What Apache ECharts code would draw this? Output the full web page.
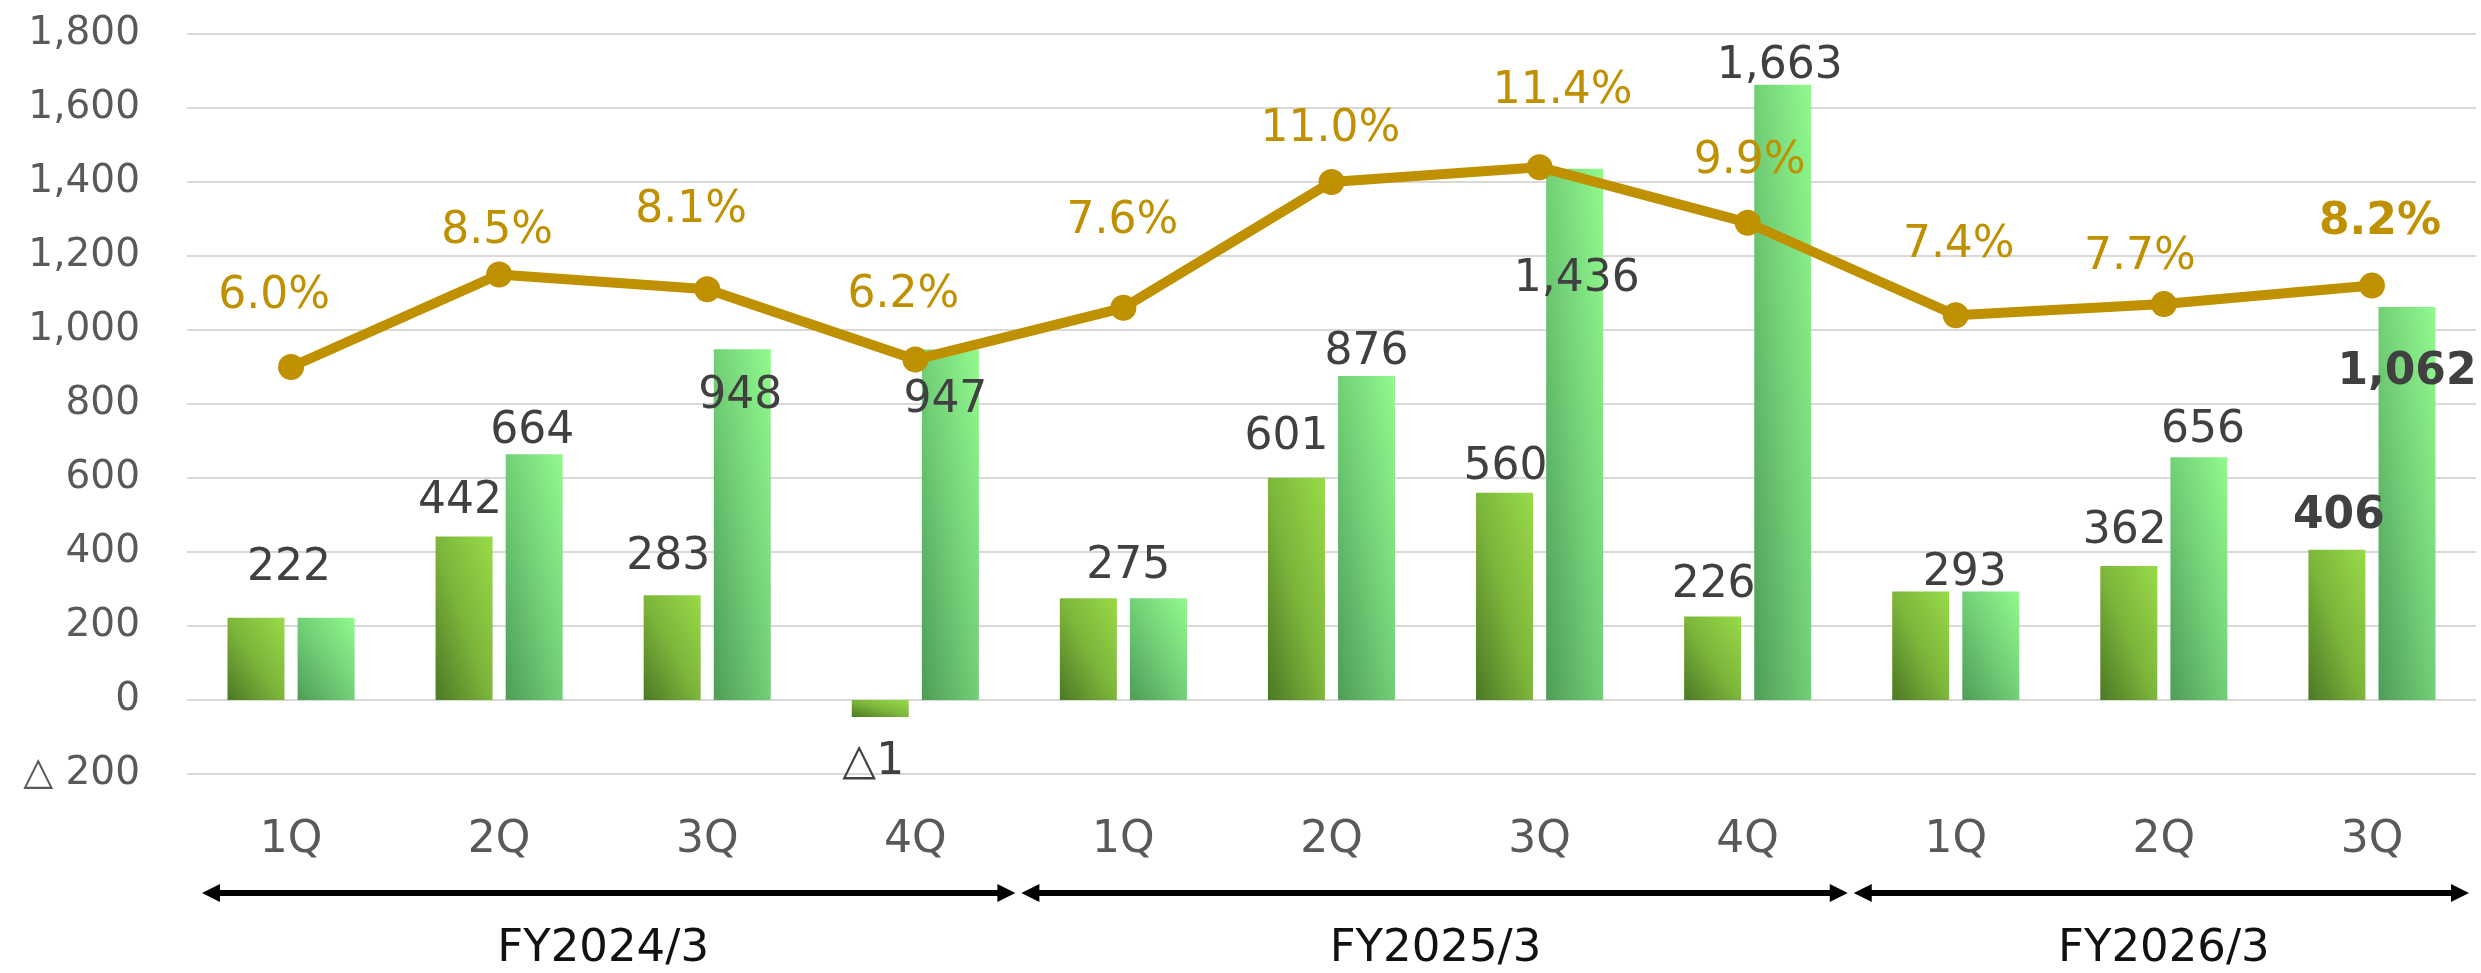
<!DOCTYPE html>
<html>
<head>
<meta charset="utf-8">
<script src="https://cdn.jsdelivr.net/npm/echarts@6/dist/echarts.min.js"></script>
<style>
  html, body { margin: 0; padding: 0; background: #fff; }
  #main { width: 2481px; height: 973px; }
</style>
</head>
<body>
<div id="main"></div>
<script>
// data
var categories = ['1Q', '2Q', '3Q', '4Q', '1Q', '2Q', '3Q', '4Q', '1Q', '2Q', '3Q'];
var fiscalYears = ['FY2024/3', 'FY2025/3', 'FY2026/3'];
var fyQuarterCounts = [4, 4, 3];
var quarterly = [222, 442, 283, -1, 275, 601, 560, 226, 293, 362, 406];
var cumulative = [222, 664, 948, 947, 275, 876, 1436, 1663, 293, 656, 1062];
var marginPct = [6.0, 8.5, 8.1, 6.2, 7.6, 11.0, 11.4, 9.9, 7.4, 7.7, 8.2];

// label placement (offset of label centre from bar top / point centre), null = hidden
var qLabelPos = [[33, -49], [-4, -35], [-4, -38], [-7, 46], [40, -32], [-10, -40], [1, -25], [1, -31], [44, -18], [-4, -34], [2, -33]];
var cLabelPos = [null, [-2, -23], [-2, 47], [-5, 51], null, [0, -23], [2, 111], [-3, -18], null, [4, -27], [0, 66]];
var pLabelPos = [[-17, -70], [-2, -43], [-16, -79], [-12, -64], [-1, -86], [-1, -52], [23, -76], [2, -61], [3, -70], [-24, -47], [8, -63]];

var FONT = '"DejaVu Sans", Verdana, sans-serif';
var GOLD = '#BF9000';
var BAR_W = 57;
var MIN_H = 17;
var Q_STOPS = ['#4c7824', '#7db63b', '#98db47'];
var C_STOPS = ['#4e9c59', '#72cf77', '#91fa8d'];
var lastIdx = categories.length - 1;

var fmt = function (v) {
    if (v < 0) return '△' + Math.abs(v);
    return v.toLocaleString('en-US');
};

var barLabel = function (v, pos, i) {
    if (!pos) return { show: false };
    return {
        show: true,
        position: ['50%', v < 0 ? '100%' : 0],
        offset: pos,
        align: 'center',
        verticalAlign: 'middle',
        fontSize: 44,
        fontFamily: FONT,
        color: '#404040',
        fontWeight: i === lastIdx ? 'bold' : 'normal',
        formatter: fmt(v)
    };
};

// diagonal gradient that scales with the bar (like office charts)
var barGradient = function (h, stops) {
    var w = BAR_W, L2 = w * w + h * h;
    return new echarts.graphic.LinearGradient(0, 1, 2 * h * h / L2, 1 - 2 * w * w / L2, [
        { offset: 0, color: stops[0] },
        { offset: 0.5, color: stops[1] },
        { offset: 1, color: stops[2] }
    ]);
};

var myChart = echarts.init(document.getElementById('main'));

var buildSeries = function (heightOf) {
    return [{
        name: 'quarterly',
        type: 'bar',
        barWidth: BAR_W,
        barGap: '23%',
        barMinHeight: MIN_H,
        data: quarterly.map(function (v, i) {
            return {
                value: v,
                itemStyle: { color: barGradient(heightOf(v), Q_STOPS) },
                label: barLabel(v, qLabelPos[i], i)
            };
        }),
        z: 2
    }, {
        name: 'cumulative',
        type: 'bar',
        barWidth: BAR_W,
        data: cumulative.map(function (v, i) {
            return {
                value: v,
                itemStyle: { color: barGradient(heightOf(v), C_STOPS) },
                label: barLabel(v, cLabelPos[i], i)
            };
        }),
        z: 2
    }, {
        name: 'margin',
        type: 'line',
        yAxisIndex: 1,
        symbol: 'circle',
        symbolSize: 26,
        lineStyle: { color: GOLD, width: 10 },
        itemStyle: { color: GOLD },
        data: marginPct.map(function (v, i) {
            return {
                value: v,
                label: {
                    show: true,
                    position: ['50%', '50%'],
                    offset: pLabelPos[i],
                    align: 'center',
                    verticalAlign: 'middle',
                    fontSize: 44,
                    fontFamily: FONT,
                    color: GOLD,
                    fontWeight: i === lastIdx ? 'bold' : 'normal',
                    formatter: v.toFixed(1) + '%'
                }
            };
        }),
        z: 5
    }];
};

var option = {
    animation: false,
    backgroundColor: '#fff',
    textStyle: { fontFamily: FONT },
    grid: { left: 187, right: 5, top: 34, bottom: 199, containLabel: false },
    xAxis: {
        type: 'category',
        data: categories,
        axisLine: { show: false },
        axisTick: { show: false },
        axisLabel: { fontSize: 44, color: '#595959', margin: 45, fontFamily: FONT }
    },
    yAxis: [{
        type: 'value',
        min: -200,
        max: 1800,
        interval: 200,
        axisLine: { show: false },
        axisTick: { show: false },
        splitLine: { lineStyle: { color: '#d9d9d9', width: 2 } },
        axisLabel: {
            fontSize: 39,
            color: '#595959',
            margin: 47,
            fontFamily: FONT,
            formatter: function (v) { return v < 0 ? '△ ' + Math.abs(v) : v.toLocaleString('en-US'); }
        }
    }, {
        type: 'value',
        min: -5,
        max: 15,
        show: false,
        splitLine: { show: false }
    }],
    series: buildSeries(function () { return 100; })
};

myChart.setOption(option);

// second pass: gradients need each bar's pixel height
var zeroY = myChart.convertToPixel({ yAxisIndex: 0 }, 0);
myChart.setOption({
    series: buildSeries(function (v) {
        return Math.max(MIN_H, Math.abs(zeroY - myChart.convertToPixel({ yAxisIndex: 0 }, v)));
    })
});

// fiscal-year brackets under the category axis
function drawBrackets() {
    var xs = categories.map(function (c, i) {
        return myChart.convertToPixel({ xAxisIndex: 0 }, i);
    });
    var band = xs[1] - xs[0];
    var y = 893, head = 18, half = 9;
    var els = [];
    var start = 0;
    fyQuarterCounts.forEach(function (n, g) {
        var left = xs[start] - band / 2;
        var right = xs[start + n - 1] + band / 2;
        var x1 = left + (g === 0 ? 15 : 2);
        var x2 = right - (g === fyQuarterCounts.length - 1 ? 7 : 4);
        els.push({
            type: 'line',
            shape: { x1: x1 + head - 2, y1: y, x2: x2 - head + 2, y2: y },
            style: { stroke: '#000', lineWidth: 6 }
        });
        els.push({
            type: 'polygon',
            shape: { points: [[x1, y], [x1 + head, y - half], [x1 + head, y + half]] },
            style: { fill: '#000' }
        });
        els.push({
            type: 'polygon',
            shape: { points: [[x2, y], [x2 - head, y - half], [x2 - head, y + half]] },
            style: { fill: '#000' }
        });
        els.push({
            type: 'text',
            style: {
                text: fiscalYears[g],
                x: (left + right) / 2,
                y: 949,
                align: 'center',
                verticalAlign: 'middle',
                fontSize: 45,
                fontFamily: FONT,
                fill: '#111'
            }
        });
        start += n;
    });
    myChart.setOption({ graphic: els });
}
drawBrackets();
</script>
</body>
</html>
